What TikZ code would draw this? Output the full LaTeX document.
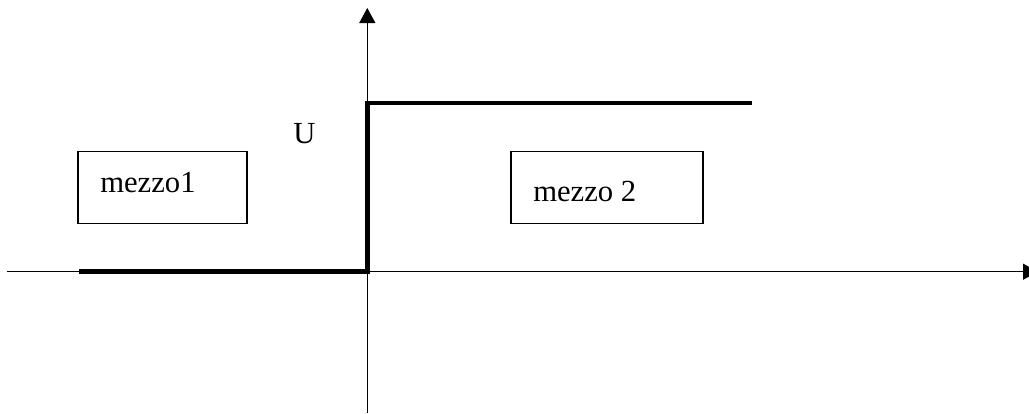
\documentclass[tikz,border=0pt]{standalone}
\usepackage{fontspec}
\setmainfont{Liberation Serif}
\usetikzlibrary{arrows.meta}
\tikzset{
  axis/.style={line width=0.8pt, -{Triangle[length=11.25pt,width=12pt]}},
  plain axis/.style={line width=0.8pt},
  stepline/.style={line width=3.5pt, line join=miter},
  mbox/.style={draw, line width=0.9pt, inner sep=0pt},
  lbl/.style={inner sep=0pt, font=\fontsize{23}{27}\selectfont}
}
\begin{document}
\begin{tikzpicture}[x=0.75pt,y=-0.75pt]
\useasboundingbox (0,0) rectangle (1029,414);
% axes
\coordinate (xl) at (7,271.7);
\coordinate (xr) at (1038,271.7);
\coordinate (yb) at (367.3,413);
\coordinate (yt) at (367.3,8);
\draw[axis] (xl) -- (xr);
\draw[axis] (yb) -- (yt);
% step function
\coordinate (s0) at (79,271.5);
\coordinate (s1) at (367.5,271.5);
\coordinate (s2) at (367.5,103);
\coordinate (s3) at (752,103);
\draw[stepline] (s0) -- (s1) -- (s2) -- (s3);
% boxes
\node[mbox, minimum width=126.75pt, minimum height=54pt] (b1) at (162.5,187.5) {};
\node[mbox, minimum width=144pt, minimum height=54pt] (b2) at (607,187.5) {};
\node[lbl, anchor=base west] (t1) at (100,192) {mezzo1};
\node[lbl, anchor=base west] (t2) at (533,201) {mezzo 2};
\node[lbl, anchor=base west] (u) at (293,143) {U};
\end{tikzpicture}
\end{document}
